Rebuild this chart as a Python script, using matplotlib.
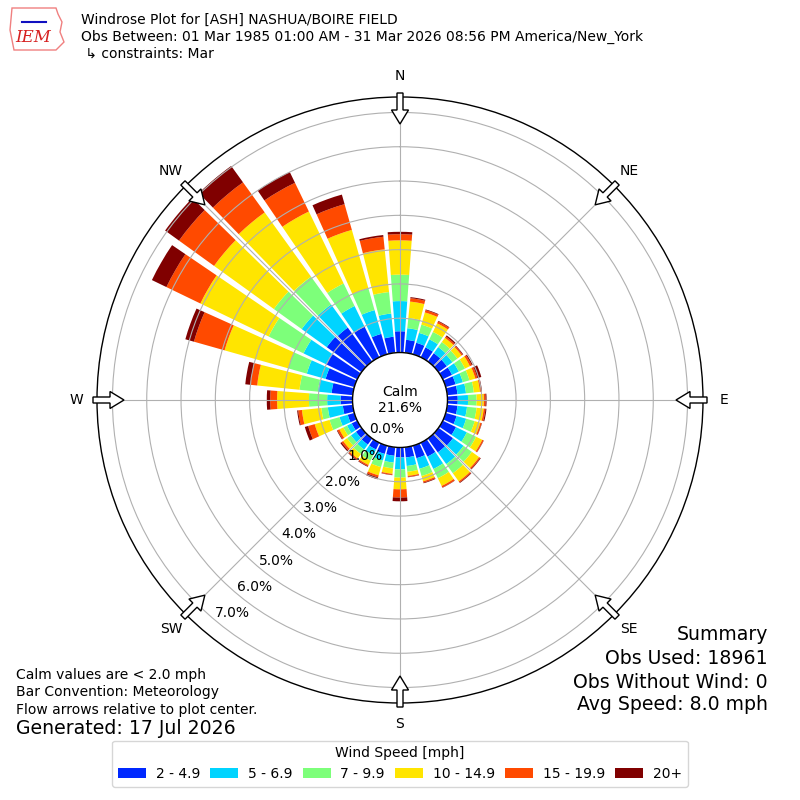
import numpy as np
import matplotlib
matplotlib.use("Agg")
import matplotlib.pyplot as plt
from matplotlib.patches import Circle, FancyArrow, Patch, Polygon

# ---------------- data (percent of observations) ----------------
directions = list(range(0, 360, 10))
speed_labels = ["2 - 4.9", "5 - 6.9", "7 - 9.9", "10 - 14.9", "15 - 19.9", "20+"]
speed_colors = ["#0028ff", "#00d4ff", "#7dff7a", "#ffe500", "#ff4a00", "#800000"]

# cumulative frequency (%) at the top of each speed band, per direction
top_2_5 = [0.62, 0.38, 0.35, 0.32, 0.30, 0.30, 0.30, 0.30, 0.30, 0.30, 0.30, 0.33,
           0.43, 0.52, 0.50, 0.45, 0.38, 0.30, 0.29, 0.25, 0.25, 0.22, 0.22, 0.20,
           0.18, 0.20, 0.29, 0.35, 0.62, 0.87, 1.01, 1.25, 1.22, 0.99, 0.62, 0.47]
top_5_7 = [1.50, 0.72, 0.65, 0.58, 0.52, 0.50, 0.52, 0.52, 0.55, 0.60, 0.58, 0.62,
           0.78, 0.90, 0.92, 0.85, 0.70, 0.55, 0.64, 0.45, 0.45, 0.40, 0.40, 0.38,
           0.33, 0.45, 0.73, 0.74, 1.02, 1.44, 1.74, 2.15, 2.05, 1.66, 1.34, 1.15]
top_7_10 = [2.27, 1.02, 0.90, 0.82, 0.70, 0.68, 0.72, 0.72, 0.78, 0.85, 0.86, 0.88,
            1.08, 1.20, 1.25, 1.15, 0.92, 0.72, 0.88, 0.62, 0.65, 0.58, 0.56, 0.52,
            0.45, 0.75, 0.92, 1.27, 1.56, 2.00, 2.87, 3.15, 3.05, 2.39, 2.00, 1.78]
top_10_15 = [3.27, 1.50, 1.27, 1.10, 0.85, 0.83, 0.88, 0.90, 0.96, 1.06, 1.07, 1.05,
             1.28, 1.46, 1.54, 1.40, 1.08, 0.84, 1.22, 0.78, 0.90, 0.72, 0.72, 0.66,
             0.58, 1.20, 1.49, 2.20, 2.80, 3.93, 5.08, 5.30, 5.36, 4.72, 3.77, 3.03]
top_15_20 = [3.45, 1.60, 1.34, 1.16, 0.90, 0.87, 0.94, 0.96, 1.00, 1.11, 1.12, 1.09,
             1.32, 1.50, 1.58, 1.45, 1.12, 0.87, 1.46, 0.81, 0.96, 0.76, 0.76, 0.72,
             0.64, 1.40, 1.60, 2.40, 3.00, 4.86, 6.18, 6.56, 6.44, 5.65, 4.55, 3.40]
top_20p = [3.52, 1.63, 1.36, 1.18, 0.94, 0.89, 0.97, 1.08, 1.02, 1.14, 1.15, 1.10,
           1.33, 1.52, 1.60, 1.46, 1.14, 0.88, 1.57, 0.82, 1.02, 0.78, 0.78, 0.76,
           0.66, 1.50, 1.63, 2.50, 3.15, 5.12, 6.65, 7.06, 7.03, 6.00, 4.84, 3.45]

calm_pct = 21.6
ring_values = [0, 1, 2, 3, 4, 5, 6, 7]
compass_angles = [0, 45, 90, 135, 180, 225, 270, 315]
compass_labels = ["N", "NE", "E", "SE", "S", "SW", "W", "NW"]

# ---------------- figure ----------------
fig = plt.figure(figsize=(8, 8), dpi=100)
ax_size = 0.7575
ax = fig.add_axes([0.5 - ax_size / 2, 0.5 - ax_size / 2, ax_size, ax_size],
                  projection="polar")
ax.set_theta_zero_location("N")
ax.set_theta_direction(-1)
rmax = 7.45
r0 = 1.384
ax.set_rorigin(-r0)
ax.set_rlim(0, rmax)

theta = np.radians(directions)
width = np.radians(8.4)
tops = [top_2_5, top_5_7, top_7_10, top_10_15, top_15_20, top_20p]
bottom = np.zeros(len(directions))
for t, c in zip(tops, speed_colors):
    t = np.array(t)
    ax.bar(theta, t - bottom, width=width, bottom=bottom, color=c,
           linewidth=0, zorder=1)
    bottom = t

ax.set_rticks(ring_values)
ax.set_yticklabels([])
ax.set_xticks(np.radians(compass_angles))
ax.set_xticklabels([])
ax.grid(True, color="#b0b0b0", linewidth=0.8)
ax.set_axisbelow(False)
ax.spines["polar"].set_linewidth(1.0)

# calm disk
calm_r = r0 / (rmax + r0) * 0.5
ax.add_patch(Circle((0.5, 0.5), calm_r, transform=ax.transAxes, facecolor="white",
                    edgecolor="black", linewidth=1.0, zorder=3, clip_on=False))
ax.text(0.5, 0.5, "Calm\n%.1f%%" % calm_pct, transform=ax.transAxes, ha="center",
        va="center", fontsize=10, zorder=4)

# radial labels
for v in ring_values:
    ax.text(np.radians(220), v, "%.1f%%" % v, ha="left", va="bottom",
            fontsize=10, zorder=5)

# compass labels
scale = (ax_size * 800 / 2) / (rmax + r0)
r_lab = 324 / scale - r0
for a, lab in zip(compass_angles, compass_labels):
    ax.text(np.radians(a), r_lab, lab, ha="center", va="center", fontsize=10)

# flow arrows (pointing to plot center)
for a in compass_angles:
    ar = np.radians(a)
    sx, sy = np.sin(ar), np.cos(ar)
    x0 = 0.5 + 307 / 800 * sx
    y0 = 0.5 + 307 / 800 * sy
    arr = FancyArrow(x0, y0, -31 / 800 * sx, -31 / 800 * sy, width=6 / 800,
                     head_width=17 / 800, head_length=14 / 800,
                     length_includes_head=True, transform=fig.transFigure,
                     facecolor="white", edgecolor="black", linewidth=1.0, zorder=10)
    fig.add_artist(arr)

# titles
fig.text(81 / 800, 1 - 20 / 800, "Windrose Plot for [ASH] NASHUA/BOIRE FIELD",
         fontsize=10, va="center", ha="left")
fig.text(81 / 800, 1 - 37 / 800,
         "Obs Between: 01 Mar 1985 01:00 AM - 31 Mar 2026 08:56 PM America/New_York",
         fontsize=10, va="center", ha="left")
fig.text(81 / 800, 1 - 54 / 800, " \u21b3 constraints: Mar", fontsize=10,
         va="center", ha="left")

# IEM logo (simple)
logo_pts = [(12, 8), (56, 8), (58, 14), (62, 22), (60, 32), (64, 42), (56, 50),
            (14, 50), (10, 30)]
logo = Polygon([(x / 100, (800 - y) / 100) for x, y in logo_pts], closed=True,
               transform=fig.dpi_scale_trans, fill=False, edgecolor="#f08080",
               linewidth=1.0)
fig.add_artist(logo)
fig.text(33 / 800, 1 - 38 / 800, "IEM", fontsize=12, color="#d62020",
         family="DejaVu Serif", style="italic", ha="center", va="center")
fig.add_artist(plt.Line2D([22 / 800, 46 / 800], [1 - 22 / 800, 1 - 22 / 800],
                          color="#1010c0", linewidth=1.5, transform=fig.transFigure))

# summary text
fs_big = 13.6
fig.text(768 / 800, 1 - 635 / 800, "Summary", fontsize=fs_big, ha="right", va="center")
fig.text(768 / 800, 1 - 659 / 800, "Obs Used: 18961", fontsize=fs_big, ha="right",
         va="center")
fig.text(768 / 800, 1 - 682 / 800, "Obs Without Wind: 0", fontsize=fs_big, ha="right",
         va="center")
fig.text(768 / 800, 1 - 705 / 800, "Avg Speed: 8.0 mph", fontsize=fs_big, ha="right",
         va="center")

fig.text(16 / 800, 1 - 675 / 800, "Calm values are < 2.0 mph", fontsize=10,
         ha="left", va="center")
fig.text(16 / 800, 1 - 692 / 800, "Bar Convention: Meteorology", fontsize=10,
         ha="left", va="center")
fig.text(16 / 800, 1 - 710 / 800, "Flow arrows relative to plot center.", fontsize=10,
         ha="left", va="center")
fig.text(16 / 800, 1 - 729 / 800, "Generated: 17 Jul 2026", fontsize=fs_big,
         ha="left", va="center")

handles = [Patch(facecolor=c) for c in speed_colors]
fig.legend(handles, speed_labels, loc="lower center", bbox_to_anchor=(0.5, 0.008),
           ncol=6, title="Wind Speed [mph]", fontsize=10, title_fontsize=10,
           frameon=True, fancybox=True, columnspacing=0.75, handletextpad=0.7)

fig.savefig("out.png", dpi=100)
